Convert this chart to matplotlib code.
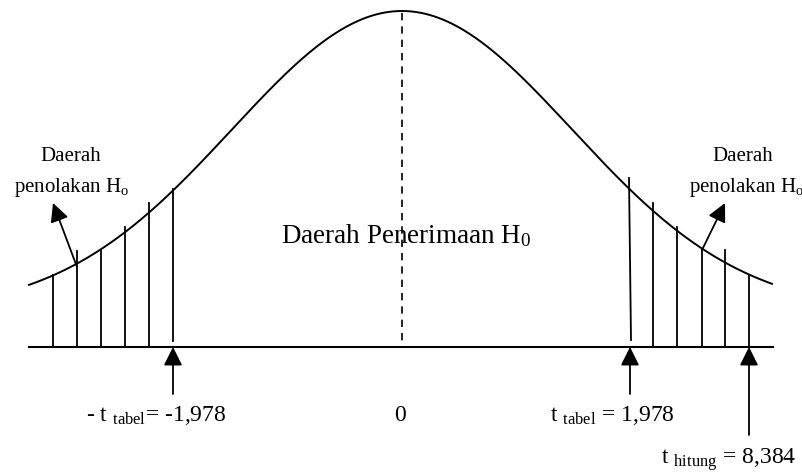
import numpy as np
import matplotlib.pyplot as plt

plt.rcParams['font.family'] = ['Liberation Serif', 'DejaVu Serif']
plt.rcParams['mathtext.fontset'] = 'custom'
plt.rcParams['mathtext.rm'] = 'Liberation Serif'
plt.rcParams['mathtext.it'] = 'Liberation Serif:italic'

# diagram is laid out in pixel units, y pointing down
peak_x, peak_y = 402, 11
curve_base, curve_sd = 312, 170
curve_left, curve_right = 29, 772
axis_y = 347

# hatching of the rejection regions
left_lines_x = [53, 77, 101, 125, 149, 173]
left_lines_top = [275, 251, 251, 227, 203, 189]
right_lines_x = [630, 653, 677, 702, 725, 749]
right_lines_top = [178, 203, 227, 250, 250, 275]

t_tabel = "1,978"
t_hitung = "8,384"

fig = plt.figure(figsize=(8.02, 4.76), dpi=100)
ax = fig.add_axes([0, 0, 1, 1])
ax.set_xlim(0, 802)
ax.set_ylim(476, 0)
ax.axis('off')

# bell curve
x = np.linspace(curve_left, curve_right, 500)
y = curve_base - (curve_base - peak_y) * np.exp(-(x - peak_x) ** 2 / (2 * curve_sd ** 2))
ax.plot(x, y, color='k', lw=1.4)

# horizontal axis and centre line
ax.plot([curve_left, curve_right + 1], [axis_y, axis_y], color='k', lw=1.5)
ax.plot([peak_x, peak_x], [13, axis_y], color='k', lw=1.2, dashes=(4.4, 3.6))

# hatch lines
for i, (lx, top) in enumerate(zip(left_lines_x, left_lines_top)):
    bottom = axis_y - 6 if i == len(left_lines_x) - 1 else axis_y
    ax.plot([lx, lx], [top, bottom], color='k', lw=1.3)
for i, (rx, top) in enumerate(zip(right_lines_x, right_lines_top)):
    if i == 0:
        ax.plot([rx - 1, rx + 1], [top, axis_y - 7], color='k', lw=1.3)
    else:
        ax.plot([rx, rx], [top, axis_y], color='k', lw=1.3)

arrow = dict(arrowstyle='-|>,head_length=0.56,head_width=0.28', mutation_scale=20,
             color='k', lw=1.3, shrinkA=0, shrinkB=0)

# arrows from below to critical points
ax.annotate("", xy=(left_lines_x[-1], axis_y), xytext=(left_lines_x[-1], 394), arrowprops=arrow)
ax.annotate("", xy=(right_lines_x[0], axis_y), xytext=(right_lines_x[0], 394), arrowprops=arrow)
ax.annotate("", xy=(right_lines_x[-1], axis_y), xytext=(right_lines_x[-1], 435), arrowprops=arrow)

# arrows to the region labels
ax.annotate("", xy=(53, 203), xytext=(left_lines_x[1], 267), arrowprops=arrow)
ax.annotate("", xy=(725, 203), xytext=(right_lines_x[3], 250), arrowprops=arrow)

# texts
ax.text(71, 161, "Daerah", fontsize=15, ha='center', va='baseline')
ax.text(71, 192, r"penolakan H$_\mathrm{o}$", fontsize=15, ha='center', va='baseline')
ax.text(743, 161, "Daerah", fontsize=15, ha='center', va='baseline')
ax.text(746, 192, r"penolakan H$_\mathrm{o}$", fontsize=15, ha='center', va='baseline')

ax.text(406, 243, r"Daerah Penerimaan H$_\mathrm{0}$", fontsize=19.5, ha='center', va='baseline')

ax.text(86, 421, r"- t $_\mathrm{tabel}$= -" + t_tabel, fontsize=17, ha='left', va='baseline')
ax.text(400, 421, "0", fontsize=17, ha='center', va='baseline')
ax.text(550, 421, r"t $_\mathrm{tabel}$ = " + t_tabel, fontsize=17, ha='left', va='baseline')
ax.text(661, 464, r"t $_\mathrm{hitung}$ = " + t_hitung, fontsize=17, ha='left', va='baseline')

fig.savefig('out.png', dpi=100)
